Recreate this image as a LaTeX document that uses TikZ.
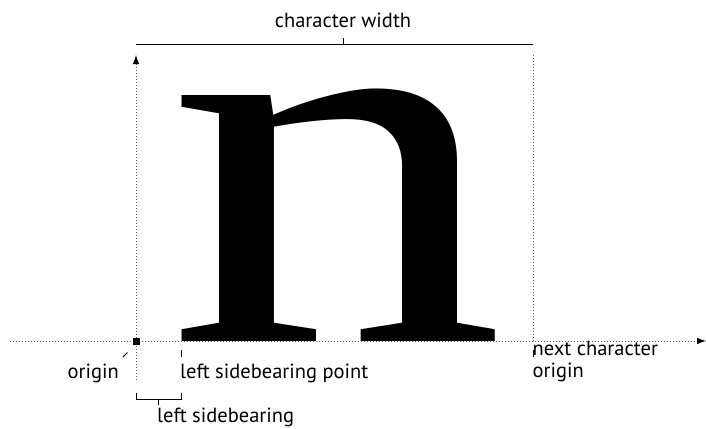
\documentclass[tikz,border=0pt]{standalone}
\usepackage{fontspec}
\setmainfont{PT Sans}
\newfontfamily\glyphfont{Liberation Serif}
\usetikzlibrary{arrows.meta, positioning}

\begin{document}
\begin{tikzpicture}[
    x=1pt, y=-1pt,
    caption/.style={font=\fontsize{20.5pt}{22pt}\selectfont, inner sep=0pt,
                    align=left},
    guide/.style={line width=0.8pt, black!60, dash pattern=on 1pt off 2pt},
    tip/.style={-{Latex[length=9pt, width=6.5pt, color=black]}},
    bar/.style={line width=0.8pt, black},
    originmark/.style={fill=black, inner sep=0pt, minimum size=7pt},
  ]
    \useasboundingbox (0,0) rectangle (706,428);

    % Axes and guides
    \coordinate (xstart) at (10,341);
    \coordinate (xend)   at (706,341);
    \coordinate (ystart) at (136,380);
    \coordinate (yend)   at (136,55);
    \coordinate (nexttop) at (533,55);
    \coordinate (nextorig) at (533,341);

    \draw[guide, tip] (xstart) -- (xend);
    \draw[guide, tip] (ystart) -- (yend);
    \draw[guide] (nextorig) -- (nexttop);

    % The glyph
    \node[inner sep=0pt, anchor=base west] (glyph) at (166.7,341)
      {\scalebox{6.78}[5.36]{\glyphfont\fontsize{100pt}{100pt}\selectfont n}};

    \node[originmark] (orig) at (136,341) {};

    % Character width bar, caption above
    \coordinate (cwleft)  at (136,44);
    \coordinate (cwright) at (533,44);
    \coordinate (cwmid)   at (343,44);
    \draw[bar] (cwleft) -- (cwright);
    \draw[bar] (cwmid) -- ++(0,-6);
    \node[caption, anchor=base] (cwtext) at (343,28) {character width};

    % Captions below the baseline
    \node[caption, anchor=base east] (origtext) at (119,378) {origin};
    \draw[bar] (123,357) -- (127.5,352.5);

    \coordinate (lsbpt) at (181,350);
    \draw[bar] (lsbpt) -- ++(0,7);
    \node[caption, anchor=base west] (lsbtext) at (180,378)
      {left sidebearing point};

    \coordinate (nextpt) at (533,350);
    \draw[bar] (nextpt) -- ++(0,7);
    \node[caption, anchor=base west] (nexttext) at (532.5,377)
      {next character\\origin};

    % Left sidebearing bracket
    \draw[bar] (136,393) -- (136,399) -- (181,399) -- (181,393);
    \draw[bar] (158,399) -- (158,405);
    \node[caption, anchor=base west] (lsbbrtext) at (157,422)
      {left sidebearing};
  \end{tikzpicture}
\end{document}
